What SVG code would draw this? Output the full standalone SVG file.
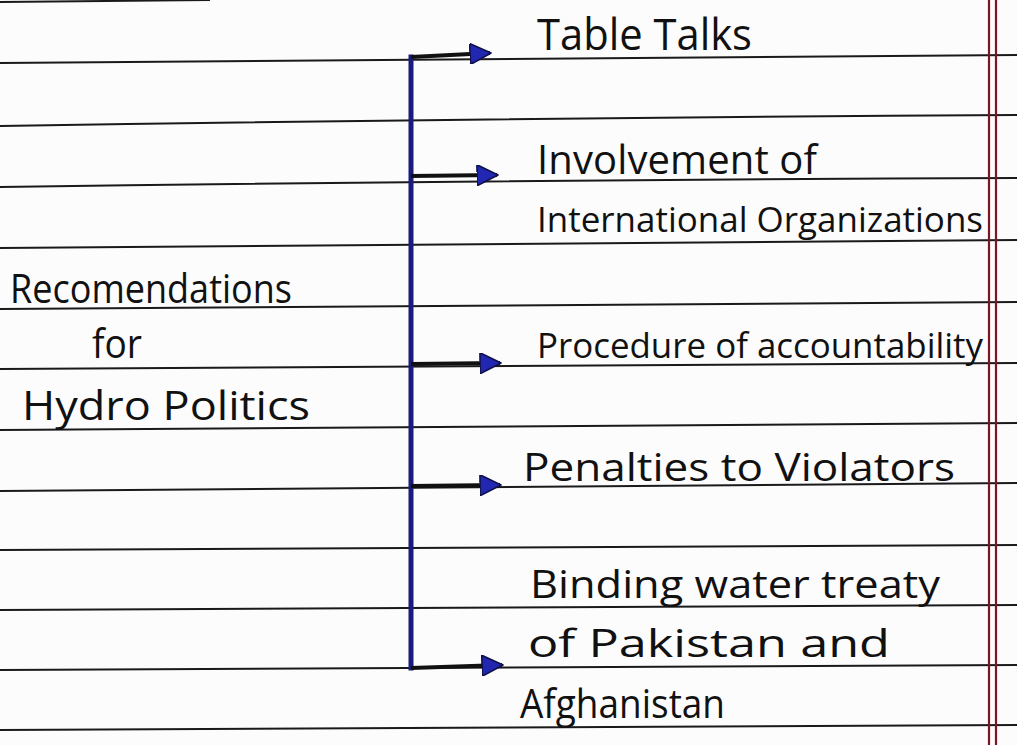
<svg xmlns="http://www.w3.org/2000/svg" width="1017" height="745" viewBox="0 0 1017 745">
<style>
.rule{fill:none;stroke:#1a1a1a;stroke-width:2}
.margin{fill:none;stroke:#7a1626;stroke-width:2.2}
.lbl{font-family:"Open Sans","Liberation Sans",sans-serif;font-size:38px;fill:#111;}
.stem{fill:none;stroke:#1b1b7e;stroke-width:5;stroke-linecap:square}
.arm{fill:none;stroke:#111;stroke-width:4;marker-end:url(#ah)}
</style>
<defs>
<marker id="ah" viewBox="0 0 20 20" refX="19" refY="10" markerWidth="22" markerHeight="21" markerUnits="userSpaceOnUse" orient="auto">
<path d="M0,0 L20,10 L0,20 z" fill="#2127b0" stroke="#10104a" stroke-width="1.5" stroke-linejoin="round"/>
</marker>
</defs>
<rect width="1017" height="745" fill="#fcfcfc"/>
<g id="paper">
<path class="rule" d="M0,2 Q100,1 210,0"/>
<path class="rule" d="M0,63 Q500,57 1017,55"/>
<path class="rule" d="M0,126 Q500,118 1017,115"/>
<path class="rule" d="M0,187 Q500,180 1017,178"/>
<path class="rule" d="M0,248 Q500,242 1017,240"/>
<path class="rule" d="M0,309 Q500,304 1017,302"/>
<path class="rule" d="M0,369 Q500,365 1017,363"/>
<path class="rule" d="M0,430 Q500,425 1017,423"/>
<path class="rule" d="M0,491 Q500,485 1017,483"/>
<path class="rule" d="M0,550 Q500,547 1017,545"/>
<path class="rule" d="M0,610 Q500,607 1017,605"/>
<path class="rule" d="M0,670 Q500,667 1017,665"/>
<path class="rule" d="M0,730 Q500,727 1017,725"/>
<path class="margin" d="M989,0 L989,745"/>
<path class="margin" d="M996,0 L996,745"/>
</g>
<g id="connectors">
<path class="stem" d="M411,57 L411,668"/>
<path class="arm" d="M411,57 L490,53"/>
<path class="arm" d="M411,176 L497,175"/>
<path class="arm" d="M411,364 L500,363"/>
<path class="arm" d="M411,486 L500,485"/>
<path class="arm" d="M411,668 L502,665"/>
</g>
<g id="root">
<text class="lbl" x="10" y="303" textLength="282" lengthAdjust="spacingAndGlyphs" style="font-size:40px">Recomendations</text>
<text class="lbl" x="92" y="358" textLength="50" lengthAdjust="spacingAndGlyphs" style="font-size:40px">for</text>
<text class="lbl" x="22" y="420" textLength="288" lengthAdjust="spacingAndGlyphs" style="font-size:40px">Hydro Politics</text>
</g>
<g id="n1"><text class="lbl" x="537" y="50" textLength="215" lengthAdjust="spacingAndGlyphs" style="font-size:44px">Table Talks</text></g>
<g id="n2">
<text class="lbl" x="537" y="174" textLength="280" lengthAdjust="spacing" style="font-size:40px">Involvement of</text>
<text class="lbl" x="537" y="232" textLength="446" lengthAdjust="spacingAndGlyphs" style="font-size:35px">International Organizations</text>
</g>
<g id="n3"><text class="lbl" x="537" y="358" textLength="446" lengthAdjust="spacingAndGlyphs" style="font-size:35px">Procedure of accountability</text></g>
<g id="n4"><text class="lbl" x="523" y="481" textLength="432" lengthAdjust="spacingAndGlyphs">Penalties to Violators</text></g>
<g id="n5">
<text class="lbl" x="530" y="598" textLength="410" lengthAdjust="spacingAndGlyphs">Binding water treaty</text>
<text class="lbl" x="528" y="657" textLength="362" lengthAdjust="spacingAndGlyphs">of Pakistan and</text>
<text class="lbl" x="520" y="718" textLength="205" lengthAdjust="spacingAndGlyphs" style="font-size:40px">Afghanistan</text>
</g>
</svg>
